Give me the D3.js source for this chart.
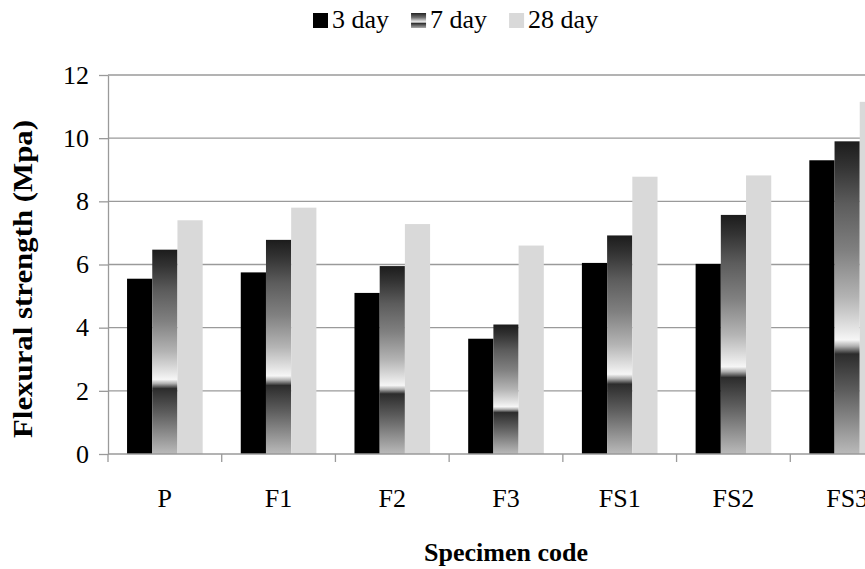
<!DOCTYPE html>
<html><head><meta charset="utf-8">
<script src="https://cdn.jsdelivr.net/npm/d3@7/dist/d3.min.js"></script>
<style>html,body{margin:0;padding:0;background:#fff;overflow:hidden}
svg text{font-family:'Liberation Serif','Times New Roman',serif !important;}</style>
</head><body>
<svg id="chart" width="865" height="569"></svg>
<script>
const categories = ["P", "F1", "F2", "F3", "FS1", "FS2", "FS3"];
const seriesNames = ["3 day", "7 day", "28 day"];
const day3  = [5.55, 5.75, 5.1, 3.65, 6.05, 6.02, 9.3];
const day7  = [6.47, 6.78, 5.95, 4.1, 6.92, 7.57, 9.9];
const day28 = [7.4, 7.8, 7.28, 6.6, 8.78, 8.82, 11.15];
const yTicks = [0, 2, 4, 6, 8, 10, 12];

const series = [day3, day7, day28];
const svg = d3.select("#chart");

// gradient for 7 day
const defs = svg.append("defs");
const g7 = defs.append("linearGradient").attr("id","g7").attr("x1",0).attr("y1",0).attr("x2",0).attr("y2",1);
[[0,"#1c1c1c"],[0.08,"#333"],[0.2,"#5c5c5c"],[0.35,"#808080"],[0.5,"#b4b4b4"],[0.6,"#e4e4e4"],[0.635,"#f6f6f6"],
 [0.655,"#b0b0b0"],[0.68,"#2c2c2c"],[0.8,"#5e5e5e"],[1,"#bababa"]].forEach(s=>g7.append("stop").attr("offset",s[0]).attr("stop-color",s[1]));
const gl = defs.append("linearGradient").attr("id","gl").attr("x1",0).attr("y1",0).attr("x2",0).attr("y2",1);
[[0,"#222"],[0.3,"#707070"],[0.5,"#c8c8c8"],[0.6,"#eee"],[0.7,"#333"],[1,"#aaa"]].forEach(s=>gl.append("stop").attr("offset",s[0]).attr("stop-color",s[1]));
const fills = ["#000000","url(#g7)","#d9d9d9"];
const legFills = ["#000000","url(#gl)","#d9d9d9"];

const y = d3.scaleLinear().domain([0,12]).range([454,75]);
const x0 = d3.scaleBand().domain(categories).range([108,904]).paddingInner(0.335).paddingOuter(0.1675);
const x1 = d3.scaleBand().domain(d3.range(3)).range([0,x0.bandwidth()]);
const step = x0.step();

// gridlines
svg.append("g").selectAll("line").data(yTicks.filter(d=>d>0)).join("line")
  .attr("x1",108).attr("x2",904).attr("y1",d=>y(d)).attr("y2",d=>y(d))
  .attr("stroke","#9a9a9a").attr("stroke-width",1.3);

// bars
const grp = svg.append("g").selectAll("g").data(categories).join("g")
  .attr("transform",d=>`translate(${x0(d)},0)`);
grp.selectAll("rect").data((c,i)=>series.map((s,k)=>({k,v:s[i]}))).join("rect")
  .attr("x",d=>x1(d.k)).attr("width",x1.bandwidth())
  .attr("y",d=>y(d.v)).attr("height",d=>y(0)-y(d.v))
  .attr("fill",d=>fills[d.k]);

// y axis
const yAxis = d3.axisLeft(y).tickValues(yTicks).tickSize(9).tickPadding(10).tickSizeOuter(0);
const ya = svg.append("g").attr("transform","translate(108,0)").call(yAxis);
ya.attr("font-family",null);
ya.select(".domain").attr("stroke","#9a9a9a").attr("stroke-width",1.3);
ya.selectAll(".tick line").attr("stroke","#9a9a9a").attr("stroke-width",1.3);
ya.selectAll("text").attr("font-size",26).attr("fill","#000");

// x axis
const xa = svg.append("g").attr("transform","translate(0,454)");
xa.append("line").attr("x1",108).attr("x2",904).attr("stroke","#9a9a9a").attr("stroke-width",1.3);
xa.selectAll("line.t").data(d3.range(categories.length+1)).join("line").attr("class","t")
  .attr("x1",i=>108+i*step).attr("x2",i=>108+i*step).attr("y1",0).attr("y2",8)
  .attr("stroke","#9a9a9a").attr("stroke-width",1.3);
xa.selectAll("text").data(categories).join("text")
  .attr("x",d=>x0(d)+x0.bandwidth()/2).attr("y",53).attr("text-anchor","middle")
  .attr("font-size",26).text(d=>d);

// axis titles
svg.append("text").attr("x",506).attr("y",561).attr("text-anchor","middle")
  .attr("font-size",26).attr("font-weight","bold").text("Specimen code");
svg.append("text").attr("transform","translate(32,279) rotate(-90)").attr("text-anchor","middle")
  .attr("font-size",27).attr("font-weight","bold")
  .attr("textLength",318).attr("lengthAdjust","spacingAndGlyphs").text("Flexural strength (Mpa)");

// legend
const leg = svg.append("g").attr("transform","translate(313,0)");
let lx = 0;
seriesNames.forEach((n,i)=>{
  leg.append("rect").attr("x",lx).attr("y",13).attr("width",15).attr("height",15).attr("fill",legFills[i]);
  const t = leg.append("text").attr("x",lx+19).attr("y",28).attr("font-size",26).text(n);
  lx += 19 + t.node().getComputedTextLength() + 22;
});
</script>
</body></html>
